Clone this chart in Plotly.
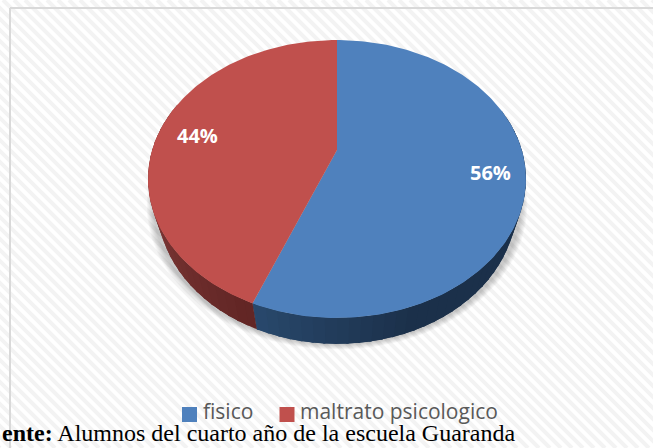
"""Perspective 3D-style pie built from plotly scatter fills."""

import math

import plotly.graph_objects as go

CATEGORIES = ["fisico", "maltrato psicologico"]
VALUES = [56, 44]
LABELS = ["56%", "44%"]
COLORS = ["#4f81bd", "#c0504d"]
CAPTION_BOLD = "ente:"
CAPTION = "Alumnos del cuarto año de la escuela Guaranda"

WIDTH, HEIGHT = 653, 448
CX, CY, RX, RY = 337, 179, 189, 139
APEX_Y = 150
DEPTH = 26

# projective map so the centre of the disc lands above the ellipse centre
_up = RY - (CY - APEX_Y)
_down = RY + (CY - APEX_Y)
K = (_down - _up) / (_down + _up)
A = _up * (1 + K)
C = RX * math.sqrt(1 - K * K)


def rim(share):
    """Pixel position on the top rim, share 0-1 clockwise from 12 o'clock."""
    t = 2 * math.pi * share
    u, v = math.sin(t), math.cos(t)
    d = 1 + K * v
    return CX + C * u / d, APEX_Y - A * v / d


def poly(xs, ys, color, line=0.0):
    return go.Scatter(
        x=xs, y=ys, mode="lines", fill="toself", fillcolor=color,
        line=dict(color=color, width=line), hoverinfo="skip", showlegend=False,
    )


def mix(c1, c2, f):
    return "rgb(%d,%d,%d)" % tuple(c1[i] + (c2[i] - c1[i]) * f for i in range(3))


fig = go.Figure()

# diagonal background hatch
hx, hy = [], []
for off in range(-HEIGHT, WIDTH, 11):
    hx += [off, off + HEIGHT, None]
    hy += [0, HEIGHT, None]
fig.add_trace(go.Scatter(x=hx, y=hy, mode="lines", line=dict(color="#f3f3f3", width=4),
                         hoverinfo="skip", showlegend=False))

# soft shadow under the pie
for grow in (7, 6, 5, 4, 3, 2, 1):
    sx, sy = [], []
    for i in range(181):
        t = 2 * math.pi * i / 180
        sx.append(CX + (RX * 0.97 + grow) * math.cos(t))
        sy.append(CY + DEPTH + (RY + grow * 0.8) * math.sin(t))
    fig.add_trace(poly(sx, sy, "rgba(0,0,0,0.03)"))

# side wall, shaded strips split at the slice boundary; each one overlaps the next
boundary = VALUES[0] / sum(VALUES)
WALL_BLUE = ((42, 74, 110), (27, 48, 74))
WALL_RED = ((98, 38, 37), (140, 66, 64))
edges = sorted({i / 120 for i in range(24, 97)} | {boundary})
for s0, s1 in zip(edges, edges[1:]):
    if s0 < boundary:
        end = min(s1 + 0.01, boundary)
        color = mix(*WALL_BLUE, min(1.0, (boundary - s0) / 0.12))
    else:
        end = s1 + 0.01
        color = mix(*WALL_RED, min(1.0, (s0 - boundary) / 0.2))
    x0, y0 = rim(s0)
    x1, y1 = rim(end)
    bx0 = CX + (x0 - CX) * 0.95
    bx1 = CX + (x1 - CX) * 0.95
    fig.add_trace(poly([x0, x1, bx1, bx0, x0],
                       [y0, y1, y1 + DEPTH, y0 + DEPTH, y0], color))

# top face
start = 0.0
for value, color in zip(VALUES, COLORS):
    share = value / sum(VALUES)
    n = max(2, int(share * 360))
    pts = [rim(start + share * j / n) for j in range(n + 1)]
    fig.add_trace(poly([CX] + [p[0] for p in pts] + [CX],
                       [APEX_Y] + [p[1] for p in pts] + [APEX_Y], color))
    start += share

# legend swatches
fig.add_trace(go.Scatter(
    x=[189.5, 287], y=[414.5, 414.5], mode="markers",
    marker=dict(symbol="square", size=15, color=COLORS, line=dict(width=0)),
    hoverinfo="skip", showlegend=False,
))

annotations = [
    dict(x=490, y=172, text=f"<b>{LABELS[0]}</b>", font=dict(color="white", size=20)),
    dict(x=197, y=135, text=f"<b>{LABELS[1]}</b>", font=dict(color="white", size=20)),
    dict(x=201, y=411, text=CATEGORIES[0], xanchor="left", font=dict(color="#595959", size=21)),
    dict(x=298, y=411, text=CATEGORIES[1], xanchor="left", font=dict(color="#595959", size=21)),
    dict(x=0, y=433, text=f"<b>{CAPTION_BOLD}</b> {CAPTION}", xanchor="left",
         font=dict(color="black", size=24, family="Liberation Serif")),
]
for a in annotations:
    a.setdefault("xanchor", "center")
    fig.add_annotation(showarrow=False, yanchor="middle", xref="x", yref="y", **a)

fig.update_layout(
    width=WIDTH, height=HEIGHT,
    margin=dict(l=0, r=0, t=0, b=0),
    paper_bgcolor="white", plot_bgcolor="white",
    font=dict(family="Open Sans, sans-serif"),
    xaxis=dict(range=[0, WIDTH], visible=False, fixedrange=True),
    yaxis=dict(range=[HEIGHT, 0], visible=False, fixedrange=True),
    shapes=[
        dict(type="rect", xref="x", yref="y", x0=152, x1=522, y0=390, y1=HEIGHT,
             fillcolor="rgba(255,255,255,0.75)", line=dict(width=0), layer="below"),
        dict(type="line", xref="x", yref="y", x0=10, x1=WIDTH, y0=8, y1=8,
             line=dict(color="#d9d9d9", width=2), layer="above"),
        dict(type="line", xref="x", yref="y", x0=10, x1=10, y0=8, y1=HEIGHT,
             line=dict(color="#d9d9d9", width=2), layer="above"),
    ],
)

fig.write_html("out.html", config=dict(displayModeBar=False),
               post_script="document.body.style.margin='0';document.body.style.overflow='hidden';")
